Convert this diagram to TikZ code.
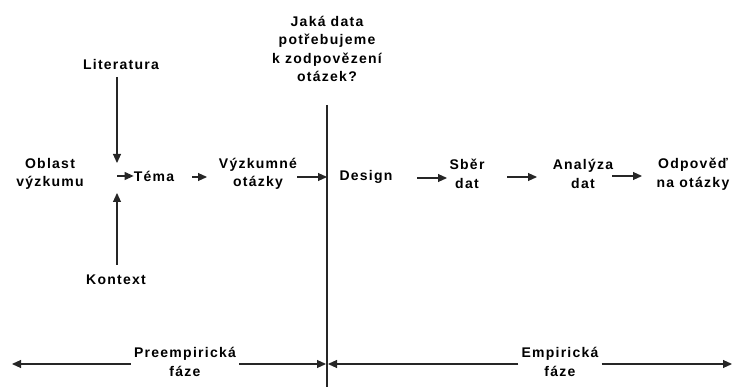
\documentclass[tikz,border=0pt]{standalone}
\usepackage{fontspec}
\usepackage{tikz}
\usetikzlibrary{arrows.meta}
\newfontfamily\popisfont[LetterSpace=9]{Liberation Sans}

\tikzset{
	popis/.style={align=center,inner sep=0pt,font=\popisfont\bfseries\fontsize{14}{18.5}\selectfont},
	sipka/.style={-{Triangle[length=9pt,width=8pt]},line width=1.1pt,draw=black!85}
}

\begin{document}
\begin{tikzpicture}[x=1pt,y=-1pt]
	\useasboundingbox (0,0) rectangle (732,387);
	% svisla deleni faze
	\coordinate (hore) at (327,105);
	\coordinate (dole) at (327,387);
	\draw[line width=1.1pt,black!85] (hore) -- (dole);
	\node[popis] (otazka) at (327,49) {Jaká data\\potřebujeme\\k zodpovězení\\otázek?};

	\node[popis] (oblast) at (50,174) {Oblast\\výzkumu};
	\node[popis] (literatura) at (121,64) {Literatura};
	\node[popis] (kontext) at (116,280) {Kontext};
	\node[popis] (tema) at (154,176) {Téma};
	\node[popis] (otazky) at (258,174) {Výzkumné\\otázky};
	\node[popis] (design) at (366,177) {Design};
	\node[popis] (sber) at (467,174) {Sběr\\dat};
	\node[popis] (analyza) at (583,174) {Analýza\\dat};
	\node[popis] (odpoved) at (693,174) {Odpověď\\na otázky};

	\coordinate (uzel) at (117,176);
	\coordinate (litkonec) at (117,163);
	\coordinate (kontkonec) at (117,193);
	\draw[sipka] (117,77) -- (litkonec);
	\draw[sipka] (117,265) -- (kontkonec);
	\draw[sipka] (uzel) -- (tema.west);
	\draw[sipka] (192,177) -- (207,177);
	\draw[sipka] (297,177) -- (327,177);
	\draw[sipka] (417,178) -- (447,178);
	\draw[sipka] (507,177) -- (537,177);
	\draw[sipka] (612,176) -- (642,176);

	% faze dole
	\node[popis] (pre) at (185,362) {Preempirická\\fáze};
	\node[popis] (emp) at (560,362) {Empirická\\fáze};
	\coordinate (levy) at (12,364);
	\coordinate (pravy) at (732,364);
	\draw[sipka] (pre.west |- levy) ++(-3,0) -- (levy);
	\draw[sipka] (pre.east |- levy) ++(3,0) -- (326,364);
	\draw[sipka] (emp.west |- levy) ++(-3,0) -- (328,364);
	\draw[sipka] (emp.east |- levy) ++(3,0) -- (pravy);
\end{tikzpicture}
\end{document}
